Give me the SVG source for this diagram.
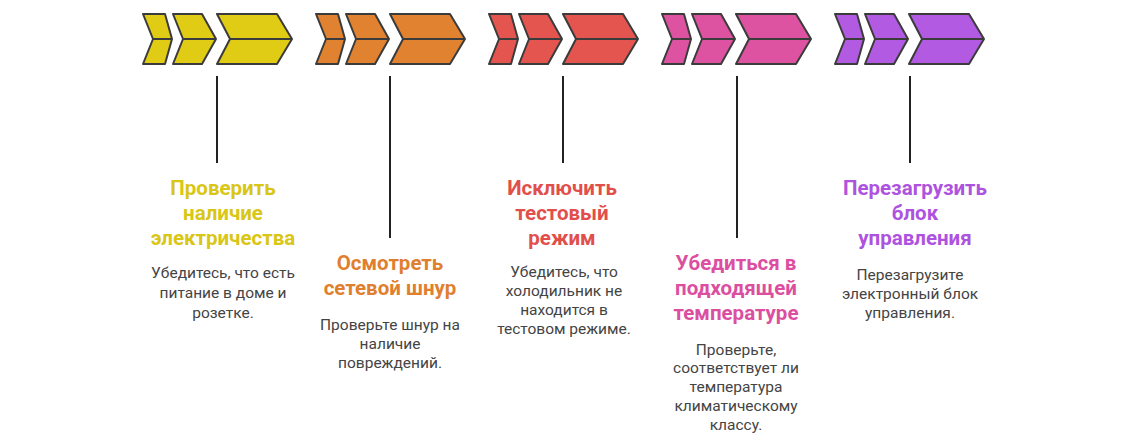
<svg xmlns="http://www.w3.org/2000/svg" width="1140" height="437" viewBox="0 0 1140 437">
<defs>
<style>
.ch{stroke:#3b3b3b;stroke-width:2;stroke-linejoin:round}
.ln{stroke:#222;stroke-width:2}
.t{font-family:Roboto,"Liberation Sans",sans-serif;font-weight:bold;font-size:20.5px;text-anchor:middle}
.b{font-family:Roboto,"Liberation Sans",sans-serif;font-size:15.5px;fill:#444;text-anchor:middle}
</style>
<g id="chev">
<path d="M0,0H22L29,25L22,50H0L10,25Z"/>
<path d="M30,0H59L73,25L59,50H30L40,25Z"/>
<path d="M74,0H134L149,25L134,50H74L87,25Z"/>
<path d="M10,25H29M40,25H73M87,25H149" fill="none"/>
</g>
</defs>
<rect width="1140" height="437" fill="#fff"/>
<g id="connectors">
<line class="ln" x1="217" y1="76" x2="217" y2="163"/>
<line class="ln" x1="390" y1="76" x2="390" y2="238"/>
<line class="ln" x1="563" y1="76" x2="563" y2="163"/>
<line class="ln" x1="737" y1="76" x2="737" y2="238"/>
<line class="ln" x1="910" y1="76" x2="910" y2="163"/>
</g>
<g id="node1">
<use href="#chev" class="ch" fill="#E0CC15" x="143" y="14"/>
<text class="t" fill="#D9C615"><tspan x="223" y="195">Проверить</tspan><tspan x="223" y="220">наличие</tspan><tspan x="223" y="245">электричества</tspan></text>
<text class="b"><tspan x="223" y="278">Убедитесь, что есть</tspan><tspan x="223" y="298">питание в доме и</tspan><tspan x="223" y="318">розетке.</tspan></text>
</g>
<g id="node2">
<use href="#chev" class="ch" fill="#E08230" x="316" y="14"/>
<text class="t" fill="#E07F2E"><tspan x="390" y="270">Осмотреть</tspan><tspan x="390" y="295">сетевой шнур</tspan></text>
<text class="b"><tspan x="390" y="330">Проверьте шнур на</tspan><tspan x="390" y="349">наличие</tspan><tspan x="390" y="368">повреждений.</tspan></text>
</g>
<g id="node3">
<use href="#chev" class="ch" fill="#E55550" x="489" y="14"/>
<text class="t" fill="#E24F4B"><tspan x="562" y="195">Исключить</tspan><tspan x="562" y="220">тестовый</tspan><tspan x="562" y="245">режим</tspan></text>
<text class="b"><tspan x="564" y="277">Убедитесь, что</tspan><tspan x="564" y="296">холодильник не</tspan><tspan x="564" y="315">находится в</tspan><tspan x="564" y="334">тестовом режиме.</tspan></text>
</g>
<g id="node4">
<use href="#chev" class="ch" fill="#DE52A2" x="662" y="14"/>
<text class="t" fill="#DC4E9F"><tspan x="736" y="270">Убедиться в</tspan><tspan x="736" y="295">подходящей</tspan><tspan x="736" y="320">температуре</tspan></text>
<text class="b"><tspan x="736" y="355">Проверьте,</tspan><tspan x="736" y="373">соответствует ли</tspan><tspan x="736" y="392">температура</tspan><tspan x="736" y="411">климатическому</tspan><tspan x="736" y="430">классу.</tspan></text>
</g>
<g id="node5">
<use href="#chev" class="ch" fill="#B25AE2" x="835" y="14"/>
<text class="t" fill="#AE52E0"><tspan x="915" y="195">Перезагрузить</tspan><tspan x="915" y="220">блок</tspan><tspan x="915" y="245">управления</tspan></text>
<text class="b"><tspan x="910" y="280">Перезагрузите</tspan><tspan x="910" y="299">электронный блок</tspan><tspan x="910" y="318">управления.</tspan></text>
</g>
</svg>
